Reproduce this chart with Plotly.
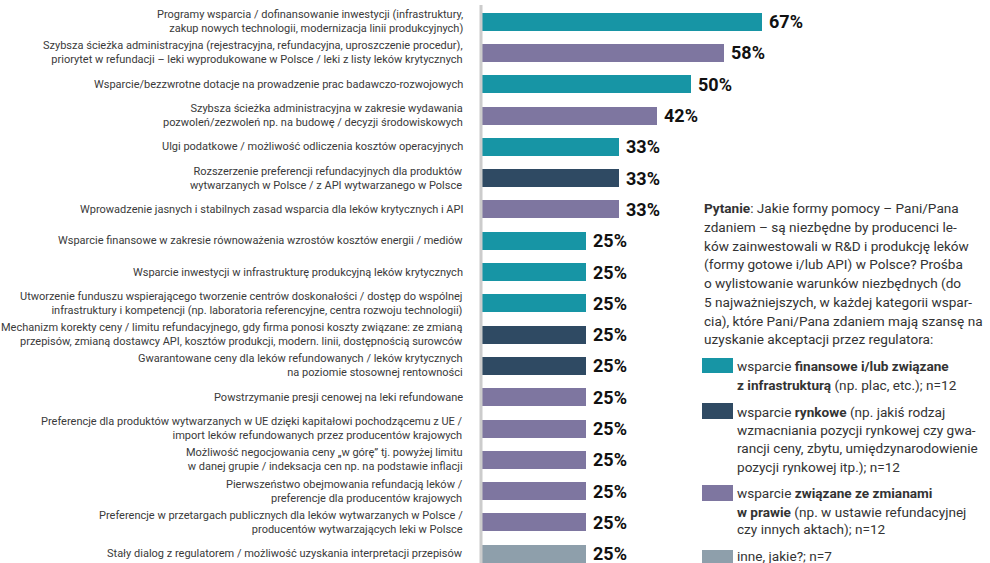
import plotly.graph_objects as go

categories = [
    "Programy wsparcia / dofinansowanie inwestycji (infrastruktury,<br>zakup nowych technologii, modernizacja linii produkcyjnych)",
    "Szybsza ścieżka administracyjna (rejestracyjna, refundacyjna, uproszczenie procedur),<br>priorytet w refundacji – leki wyprodukowane w Polsce / leki z listy leków krytycznych",
    "Wsparcie/bezzwrotne dotacje na prowadzenie prac badawczo-rozwojowych",
    "Szybsza ścieżka administracyjna w zakresie wydawania<br>pozwoleń/zezwoleń np. na budowę / decyzji środowiskowych",
    "Ulgi podatkowe / możliwość odliczenia kosztów operacyjnych",
    "Rozszerzenie preferencji refundacyjnych dla produktów<br>wytwarzanych w Polsce / z API wytwarzanego w Polsce",
    "Wprowadzenie jasnych i stabilnych zasad wsparcia dla leków krytycznych i API",
    "Wsparcie finansowe w zakresie równoważenia wzrostów kosztów energii / mediów",
    "Wsparcie inwestycji w infrastrukturę produkcyjną leków krytycznych",
    "Utworzenie funduszu wspierającego tworzenie centrów doskonałości / dostęp do wspólnej<br>infrastruktury i kompetencji (np. laboratoria referencyjne, centra rozwoju technologii)",
    "Mechanizm korekty ceny / limitu refundacyjnego, gdy firma ponosi koszty związane: ze zmianą<br>przepisów, zmianą dostawcy API, kosztów produkcji, modern. linii, dostępnością surowców",
    "Gwarantowane ceny dla leków refundowanych / leków krytycznych<br>na poziomie stosownej rentowności",
    "Powstrzymanie presji cenowej na leki refundowane",
    "Preferencje dla produktów wytwarzanych w UE dzięki kapitałowi pochodzącemu z UE /<br>import leków refundowanych przez producentów krajowych",
    "Możliwość negocjowania ceny „w górę” tj. powyżej limitu<br>w danej grupie / indeksacja cen np. na podstawie inflacji",
    "Pierwszeństwo obejmowania refundacją leków /<br>preferencje dla producentów krajowych",
    "Preferencje w przetargach publicznych dla leków wytwarzanych w Polsce /<br>producentów wytwarzających leki w Polsce",
    "Stały dialog z regulatorem / możliwość uzyskania interpretacji przepisów",
]
values = [67, 58, 50, 42, 33, 33, 33, 25, 25, 25, 25, 25, 25, 25, 25, 25, 25, 25]
groups = ["fin", "prawo", "fin", "prawo", "fin", "rynek", "prawo", "fin", "fin", "fin",
          "rynek", "rynek", "prawo", "prawo", "prawo", "prawo", "prawo", "inne"]

group_colors = {"fin": "#1795A5", "rynek": "#2F4A63", "prawo": "#7E76A0", "inne": "#8E9FAB"}

question_lines = [
    "<b>Pytanie</b>: Jakie formy pomocy – Pani/Pana",
    "zdaniem – są niezbędne by producenci le-",
    "ków zainwestowali w R&D i produkcję leków",
    "(formy gotowe i/lub API) w Polsce? Prośba",
    "o wylistowanie warunków niezbędnych (do",
    "5 najważniejszych, w każdej kategorii wspar-",
    "cia), które Pani/Pana zdaniem mają szansę na",
    "uzyskanie akceptacji przez regulatora:",
]
legend_items = [
    ("fin", ["wsparcie <b>finansowe i/lub związane</b>",
             "<b>z infrastrukturą</b> (np. plac, etc.); n=12"]),
    ("rynek", ["wsparcie <b>rynkowe</b> (np. jakiś rodzaj",
               "wzmacniania pozycji rynkowej czy gwa-",
               "rancji ceny, zbytu, umiędzynarodowienie",
               "pozycji rynkowej itp.); n=12"]),
    ("prawo", ["wsparcie <b>związane ze zmianami</b>",
               "<b>w prawie</b> (np. w ustawie refundacyjnej",
               "czy innych aktach); n=12"]),
    ("inne", ["inne, jakie?; n=7"]),
]

W_FIG, H_FIG = 990, 563
L, R, T, B = 481, 0, 6, 0
PW, PH = W_FIG - L - R, H_FIG - T - B
PX_PER_PCT = 4.19
FONT = "Roboto"


def px(x):
    return (x - L) / PW


def py(y):
    return 1 - (y - T) / PH


n = len(categories)
idx = list(range(n))

fig = go.Figure()
fig.add_trace(go.Bar(
    x=values, y=idx, orientation="h",
    marker=dict(color=[group_colors[g] for g in groups], line=dict(width=0)),
    width=0.575, hoverinfo="skip",
))

annotations = []
for i, (cat, v) in enumerate(zip(categories, values)):
    annotations.append(dict(
        x=px(465), y=i, xref="paper", yref="y", text=cat, showarrow=False,
        xanchor="right", yanchor="middle", align="right",
        font=dict(family=FONT, size=11, color="#3a3a3a"),
    ))
    annotations.append(dict(
        x=v, y=i, xref="x", yref="y", text=f"{v}%", showarrow=False,
        xanchor="left", yanchor="middle", xshift=5,
        font=dict(family=FONT, size=18, color="#111111", weight="bold"),
    ))

TXT = 13.6
q_y = [208.3, 227.0, 245.7, 264.4, 283.1, 301.8, 320.5, 339.2]
for line, yy in zip(question_lines, q_y):
    annotations.append(dict(
        x=px(702), y=py(yy), xref="paper", yref="paper", text=line, showarrow=False,
        xanchor="left", yanchor="middle", align="left",
        font=dict(family=FONT, size=TXT, color="#333333"),
    ))

legend_line_y = [[365.5, 385], [411.7, 430, 448.3, 466.7], [493.3, 511.7, 529.3], [555.5]]
swatch_y = [(358, 373), (403, 419), (485, 501), (550, 565)]
shapes = []
for (g, lines), ys, (s0, s1) in zip(legend_items, legend_line_y, swatch_y):
    shapes.append(dict(type="rect", xref="paper", yref="paper",
                       x0=px(702), x1=px(733), y0=py(s1), y1=py(s0),
                       fillcolor=group_colors[g], line=dict(width=0)))
    for line, yy in zip(lines, ys):
        annotations.append(dict(
            x=px(735), y=py(yy), xref="paper", yref="paper", text=line, showarrow=False,
            xanchor="left", yanchor="middle", align="left",
            font=dict(family=FONT, size=TXT, color="#333333"),
        ))

# vertical axis line
shapes.append(dict(type="line", xref="paper", yref="paper", x0=0, x1=0,
                   y0=0, y1=py(5), line=dict(color="#CCCCCC", width=3)))

fig.update_layout(
    width=W_FIG, height=H_FIG,
    margin=dict(l=L, r=R, t=T, b=B),
    paper_bgcolor="white", plot_bgcolor="white",
    showlegend=False,
    xaxis=dict(range=[0, PW / PX_PER_PCT], visible=False, fixedrange=True),
    yaxis=dict(range=[n - 1 + 0.5 + (PH / 31.3 - n), -0.5], visible=False, fixedrange=True),
    annotations=annotations, shapes=shapes,
    bargap=0,
)

fig.write_html(
    "out.html",
    config={"displayModeBar": False},
    post_script="document.body.style.margin='0';document.body.style.padding='0';"
                "document.body.style.overflow='hidden';window.dispatchEvent(new Event('resize'));",
)
